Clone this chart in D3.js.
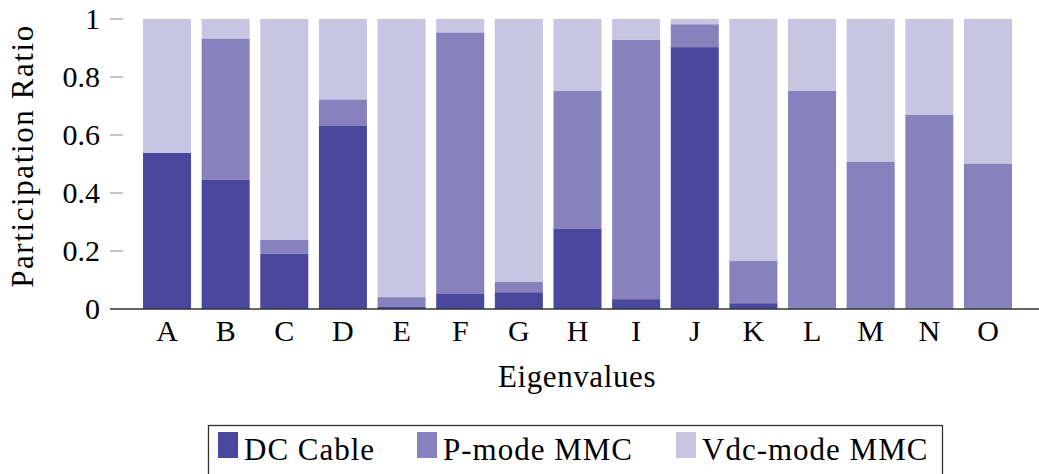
<!DOCTYPE html>
<html><head><meta charset="utf-8"><script src="https://cdn.jsdelivr.net/npm/d3@7"></script>
<style>
@font-face { font-family: "CMish"; src: local("Liberation Serif"), local("LiberationSerif"), local("Liberation Serif Regular"), local("LiberationSerif-Regular"); }
</style>
</head>
<body style="margin:0">
<svg id="chart" width="1039" height="474"></svg>
<script>
// ---- data ----
const categories = ["A","B","C","D","E","F","G","H","I","J","K","L","M","N","O"];
const dcCable  = [0.538,0.445,0.190,0.631,0.007,0.054,0.058,0.278,0.034,0.903,0.020,0.000,0.000,0.000,0.000];
const pMode    = [0.000,0.488,0.048,0.092,0.034,0.900,0.035,0.474,0.894,0.079,0.147,0.752,0.507,0.669,0.502];
const vdcMode  = [0.462,0.067,0.762,0.277,0.959,0.046,0.907,0.248,0.072,0.018,0.833,0.248,0.493,0.331,0.498];
const seriesNames = ["DC Cable","P-mode MMC","Vdc-mode MMC"];
const yTickValues = [0, 0.2, 0.4, 0.6, 0.8, 1];
const yTickLabels = ["0","0.2","0.4","0.6","0.8","1"];
const xTitle = "Eigenvalues";
const yTitle = "Participation Ratio";

// ---- styling ----
const FONT = '"Liberation Serif", CMish, "DejaVu Serif", serif';
const colors = ["#4a479c", "#8782bd", "#c8c5e2"];
const svg = d3.select("#chart");
const keys = ["dc","p","v"];
const rows = categories.map((c,i) => ({cat:c, dc:dcCable[i], p:pMode[i], v:vdcMode[i]}));

const x = d3.scaleBand().domain(categories).range([137.7, 1017.3]).paddingInner(0.181).paddingOuter(0.0905);
const y = d3.scaleLinear().domain([0,1]).range([309, 19]);

const stacked = d3.stack().keys(keys)(rows);

svg.append("g").selectAll("g").data(stacked).join("g")
  .attr("fill", (d,i) => colors[i])
  .selectAll("rect").data(d => d).join("rect")
  .attr("x", d => x(d.data.cat))
  .attr("width", x.bandwidth())
  .attr("y", d => y(d[1]))
  .attr("height", d => Math.max(0, y(d[0]) - y(d[1])));

// y ticks
const yAxisG = svg.append("g");
yAxisG.selectAll("line").data(yTickValues.filter(v => v !== 0)).join("line")
  .attr("x1", 110).attr("x2", 123)
  .attr("y1", d => y(d)).attr("y2", d => y(d))
  .attr("stroke", "#a8a8a8").attr("stroke-width", 1.3);
yAxisG.selectAll("text").data(yTickValues).join("text")
  .attr("x", 100).attr("y", d => y(d) + 10)
  .attr("text-anchor", "end")
  .style("font-size", "30px").style("font-family", FONT)
  .text((d,i) => yTickLabels[i]);

// x axis line
svg.append("line").attr("x1", 110).attr("x2", 1039).attr("y1", y(0)).attr("y2", y(0))
  .attr("stroke", "#333").attr("stroke-width", 1.6);

// x tick labels
svg.append("g").selectAll("text").data(categories).join("text")
  .attr("x", d => x(d) + x.bandwidth()/2).attr("y", 341)
  .attr("text-anchor", "middle")
  .style("font-size", "30px").style("font-family", FONT)
  .text(d => d);

// axis titles
svg.append("text")
  .attr("x", 577).attr("y", 387).attr("text-anchor", "middle")
  .style("font-size", "31px").style("font-family", FONT).style("letter-spacing", "0.6px").text(xTitle);
svg.append("text")
  .attr("transform", "translate(33,156) rotate(-90)")
  .attr("text-anchor", "middle")
  .style("font-size", "31px").style("font-family", FONT).style("letter-spacing", "1.6px").text(yTitle);

// legend
const lg = svg.append("g");
lg.append("rect").attr("x", 208.5).attr("y", 425.5).attr("width", 734).attr("height", 70)
  .attr("fill", "#fff").attr("stroke", "#333").attr("stroke-width", 1.3);
const legendSwatchX = [218, 417, 676];
seriesNames.forEach((name, i) => {
  lg.append("rect").attr("x", legendSwatchX[i]).attr("y", 432).attr("width", 20).attr("height", 26)
    .attr("fill", colors[i]);
  lg.append("text")
    .attr("x", legendSwatchX[i] + 26).attr("y", 460)
    .style("font-size", "31px").style("font-family", FONT).style("letter-spacing", "1px").text(name);
});
</script>
</body>
</html>
